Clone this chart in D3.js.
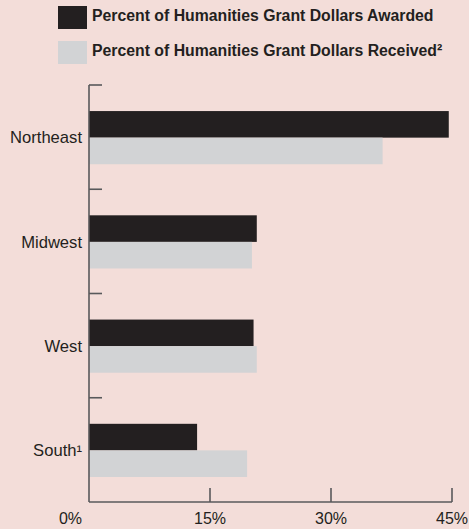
<!DOCTYPE html>
<html>
<head>
<meta charset="utf-8">
<script src="https://cdn.jsdelivr.net/npm/d3@7"></script>
<style>
  html, body { margin: 0; padding: 0; background: #f3ddd9; }
  svg { display: block; font-family: "Liberation Sans", Arial, sans-serif; }
</style>
</head>
<body>
<div id="chart"></div>
<script>
// datos
const regions = ["Northeast", "Midwest", "West", "South\u00b9"]
const awarded = [44.6, 20.8, 20.4, 13.4]
const received = [36.4, 20.2, 20.8, 19.6]
const seriesNames = ["Percent of Humanities Grant Dollars Awarded", "Percent of Humanities Grant Dollars Received\u00b2"]
const xTicks = [0, 15, 30, 45]

const width = 469
const height = 529
const margin = { top: 85, right: 17, bottom: 27, left: 89 }
const colors = ["#231f20", "#d2d3d5"]
const axisColor = "#58595b"

const svg = d3.select("#chart").append("svg").attr("width", width).attr("height", height)

// escalas
const x = d3.scaleLinear().domain([0, 45]).range([margin.left, 452])
const y = d3.scaleBand().domain(regions).range([margin.top, height - margin.bottom]).paddingInner(0).paddingOuter(0)
const inner = d3.scaleBand().domain([0, 1]).range([y.bandwidth() * 0.25, y.bandwidth() * 0.76])

// leyenda
const legend = svg.append("g").attr("id", "legend")
seriesNames.forEach((name, i) => {
    const g = legend.append("g").attr("transform", `translate(58, ${6 + i * 35})`)
    g.append("rect").attr("width", 29).attr("height", 23).attr("fill", colors[i])
    g.append("text").attr("x", 34).attr("y", 15).attr("font-size", 15.8).attr("font-weight", "bold")
        .attr("fill", "#231f20").text(name)
})

// barras
const data = regions.map((r, i) => ({ region: r, values: [awarded[i], received[i]] }))
const groups = svg.append("g").attr("id", "bars").selectAll("g").data(data).join("g")
    .attr("transform", d => `translate(0, ${y(d.region)})`)
groups.selectAll("rect").data(d => d.values).join("rect")
    .attr("x", x(0))
    .attr("y", (d, i) => inner(i))
    .attr("height", inner.bandwidth())
    .attr("width", d => x(d) - x(0))
    .attr("fill", (d, i) => colors[i])

// eje Y
const yAxisGroup = svg.append("g").attr("id", "yAxis")
yAxisGroup.append("line")
    .attr("x1", x(0)).attr("x2", x(0))
    .attr("y1", margin.top).attr("y2", height - margin.bottom)
    .attr("stroke", axisColor).attr("stroke-width", 1.6)
yAxisGroup.selectAll(".ytick").data(regions).join("line")
    .attr("x1", x(0)).attr("x2", x(0) + 13)
    .attr("y1", d => y(d)).attr("y2", d => y(d))
    .attr("stroke", axisColor).attr("stroke-width", 1.6)
yAxisGroup.selectAll(".ylabel").data(regions).join("text")
    .attr("x", 82)
    .attr("y", d => y(d) + y.bandwidth() * 0.505)
    .attr("dy", "0.35em")
    .attr("text-anchor", "end")
    .attr("font-size", 16.6)
    .attr("fill", "#231f20")
    .text(d => d)

// eje X
const xAxisGroup = svg.append("g").attr("id", "xAxis")
const base = height - margin.bottom
xAxisGroup.append("line")
    .attr("x1", x(0)).attr("x2", x(45))
    .attr("y1", base).attr("y2", base)
    .attr("stroke", axisColor).attr("stroke-width", 1.6)
xAxisGroup.selectAll(".xtick").data(xTicks.slice(1)).join("line")
    .attr("x1", d => x(d)).attr("x2", d => x(d))
    .attr("y1", base).attr("y2", base - 14)
    .attr("stroke", axisColor).attr("stroke-width", 1.6)
xAxisGroup.selectAll(".xlabel").data(xTicks).join("text")
    .attr("x", d => d === 0 ? x(d) - 7 : x(d))
    .attr("y", 524)
    .attr("text-anchor", d => d === 0 ? "end" : "middle")
    .attr("font-size", 16)
    .attr("fill", "#231f20")
    .text(d => d + "%")
</script>
</body>
</html>
